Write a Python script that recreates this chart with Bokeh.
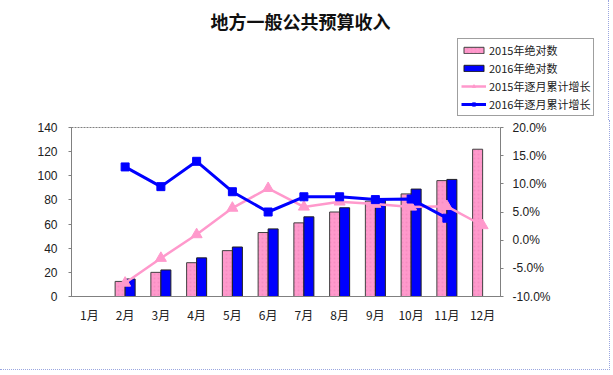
from bokeh.plotting import figure
from bokeh.layouts import column, row
from bokeh.models import (FactorRange, Range1d, LinearAxis, NumeralTickFormatter, FixedTicker,
                          ColumnDataSource, Legend, LegendItem, Label)
from bokeh.transform import dodge
from bokeh.embed import file_html
from bokeh.resources import INLINE

months = ["1月", "2月", "3月", "4月", "5月", "6月", "7月", "8月", "9月", "10月", "11月", "12月"]
abs_2015 = [None, 12.5, 20, 28, 38, 53, 61, 70, 79, 85, 96, 122]
abs_2016 = [None, 14.5, 22, 32, 41, 56, 66, 73.5, 80.5, 89, 97, None]
growth_2015 = [None, -0.076, -0.032, 0.010, 0.057, 0.092, 0.059, 0.068, 0.064, 0.059, 0.060, 0.026]
growth_2016 = [None, 0.130, 0.095, 0.140, 0.086, 0.050, 0.077, 0.077, 0.072, 0.073, 0.039, None]
title_text = "地方一般公共预算收入"
series_names = ["2015年绝对数", "2016年绝对数", "2015年逐月累计增长", "2016年逐月累计增长"]

PINK = "#FF99CC"
BLUE = "#0000FF"
FONT_CN = "Noto Sans CJK SC"
FONT_NUM = "Liberation Sans"
BORDER = "1px dotted #9AA6E0"

BAR15 = dict(fill_color=PINK, line_color="#404040", line_width=1,
             hatch_pattern="dot", hatch_color="#E070A8", hatch_scale=4, hatch_alpha=0.3)
BAR16 = dict(fill_color=BLUE, line_color="#202020", line_width=1)
LINE15 = dict(line_color=PINK, line_width=2.5)
LINE16 = dict(line_color=BLUE, line_width=3)
MARK15 = dict(marker="triangle", size=11, fill_color=PINK, line_color=PINK)
MARK16 = dict(marker="square", size=8, fill_color=BLUE, line_color=BLUE)


def src(vals, key):
    xs = [m for m, v in zip(months, vals) if v is not None]
    ys = [v for v in vals if v is not None]
    return ColumnDataSource(dict(month=xs, **{key: ys}))


# ---------------- header: title + legend ----------------
TOP_H = 120
W = 609
top = figure(width=W, height=TOP_H, x_range=Range1d(0, W), y_range=Range1d(0, TOP_H),
             x_axis_location=None, y_axis_location=None, min_border=0,
             output_backend="svg", toolbar_location=None, tools="")
top.grid.visible = False
top.outline_line_color = None
top.styles = {"border-right": BORDER}

top.add_layout(Label(x=300, y=TOP_H - 20, text=title_text, text_font=FONT_CN, text_font_size="18px",
                     text_font_style="bold", text_align="center", text_baseline="middle",
                     text_color="#101010"))

# legend proxies (one point placed outside the visible header range)
proxy = ColumnDataSource(dict(x=[-1000], y=[-1000]))
d15 = top.vbar(x="x", top="y", width=1, source=proxy, **BAR15)
d16 = top.vbar(x="x", top="y", width=1, source=proxy, **BAR16)
dl15 = top.line(x="x", y="y", source=proxy, **LINE15)
dm15 = top.scatter(x="x", y="y", source=proxy, **MARK15)
dl16 = top.line(x="x", y="y", source=proxy, **LINE16)
dm16 = top.scatter(x="x", y="y", source=proxy, **MARK16)

legend = Legend(items=[
    LegendItem(label=series_names[0], renderers=[d15]),
    LegendItem(label=series_names[1], renderers=[d16]),
    LegendItem(label=series_names[2], renderers=[dl15, dm15]),
    LegendItem(label=series_names[3], renderers=[dl16, dm16]),
], location=(457, 4), orientation="vertical")
legend.label_text_font = FONT_CN
legend.label_text_font_size = "11px"
legend.label_text_color = "#202020"
legend.border_line_color = "#404040"
legend.border_line_width = 1
legend.background_fill_alpha = 1
legend.padding = 3
legend.spacing = 2
legend.margin = 0
legend.glyph_width = 25
legend.glyph_height = 8
legend.label_height = 16
legend.label_standoff = 3
top.add_layout(legend, "center")

# ---------------- main chart ----------------
p = figure(x_range=FactorRange(*months), y_range=Range1d(0, 140),
           width=W, height=249, frame_width=428, frame_height=168,
           min_border_left=71, min_border_right=110, min_border_top=7, min_border_bottom=74,
           output_backend="svg", toolbar_location=None, tools="")
p.extra_y_ranges = {"right": Range1d(-0.10, 0.20)}
p.styles = {"border-right": BORDER, "border-bottom": BORDER}

p.grid.visible = False
p.outline_line_color = "#808080"
p.outline_line_dash = "2 1"

ya = p.yaxis[0]
ya.ticker = FixedTicker(ticks=[0, 20, 40, 60, 80, 100, 120, 140])
ra = LinearAxis(y_range_name="right", ticker=FixedTicker(ticks=[-0.10, -0.05, 0, 0.05, 0.10, 0.15, 0.20]),
                formatter=NumeralTickFormatter(format="0.0%"))
p.add_layout(ra, "right")
for ax in (ya, ra):
    ax.major_label_text_font = FONT_NUM
    ax.major_label_text_font_size = "12px"
    ax.major_label_text_color = "#202020"
    ax.axis_line_color = "#808080"
    ax.major_tick_line_color = "#808080"
    ax.major_tick_in = 0
    ax.major_tick_out = 3
    ax.minor_tick_line_color = None
ya.major_label_standoff = 11
ra.major_label_standoff = 9

xa = p.xaxis[0]
xa.major_label_text_font = FONT_CN
xa.major_label_text_font_size = "12px"
xa.major_label_text_color = "#202020"
xa.axis_line_color = "#808080"
xa.major_tick_line_color = None
xa.major_tick_out = 0
xa.major_tick_in = 0
xa.major_label_standoff = 9

s15 = src(abs_2015, "v")
s16 = src(abs_2016, "v")
g15 = src(growth_2015, "g")
g16 = src(growth_2016, "g")

p.vbar(x=dodge("month", -0.14, range=p.x_range), top="v", width=0.28, source=s15, **BAR15)
p.vbar(x=dodge("month", 0.14, range=p.x_range), top="v", width=0.28, source=s16, **BAR16)
p.line(x="month", y="g", source=g15, y_range_name="right", **LINE15)
p.scatter(x="month", y="g", source=g15, y_range_name="right", **MARK15)
p.line(x="month", y="g", source=g16, y_range_name="right", **LINE16)
p.scatter(x="month", y="g", source=g16, y_range_name="right", **MARK16)

layout = column(row(top, spacing=0), p, spacing=0)
open("out.html", "w").write(file_html(layout, INLINE))
